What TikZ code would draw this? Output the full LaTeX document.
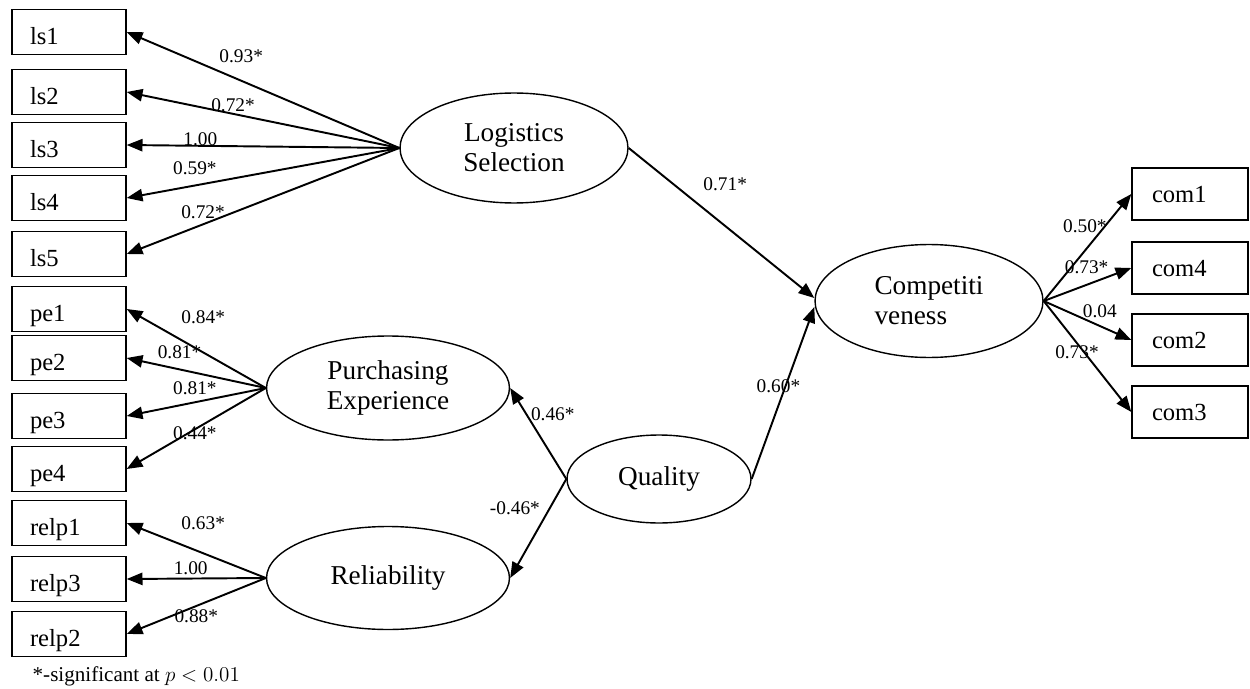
\documentclass[tikz,border=0pt]{standalone}
\usepackage{fontspec}
\setmainfont{Liberation Serif}
\usetikzlibrary{arrows.meta,shapes.geometric}

\begin{document}
\begin{tikzpicture}[->,>={Triangle[length=9pt,width=7pt]},x=0.02cm,y=-0.02cm,
		thick,latent node/.style={ellipse,draw,inner sep=0pt,align=center,font=\fontsize{15.5}{17}\selectfont},
		item node/.style={rectangle,draw,minimum height=0.9cm,inner xsep=0.36cm,text width=1.56cm,align=left,text height=14.2pt,text depth=0pt,font=\fontsize{14}{16}\selectfont},
		com node/.style={item node,minimum height=1.04cm,inner xsep=0.4cm,text width=1.52cm,text height=10.2pt}]
		\useasboundingbox (0,0) rectangle (1250,689);
		
		% latent variables
		\node[latent node,minimum width=4.56cm,minimum height=2.2cm] (LS) at (514,148) {Logistics\\Selection};
		\node[latent node,minimum width=4.86cm,minimum height=2.08cm] (PE) at (388,388) {Purchasing\\Experience};
		\node[latent node,minimum width=4.86cm,minimum height=2.06cm] (REL) at (388,578) {Reliability};
		\node[latent node,minimum width=3.68cm,minimum height=1.76cm] (Q) at (659,479) {Quality};
		\node[latent node,minimum width=4.56cm,minimum height=2.26cm,align=left] (C) at (929,301) {Competiti\\veness};
		
		% observed items
		\node[item node] (ls1) at (69,32) {ls1};
		\node[item node] (ls2) at (69,92) {ls2};
		\node[item node] (ls3) at (69,145) {ls3};
		\node[item node] (ls4) at (69,198) {ls4};
		\node[item node] (ls5) at (69,254) {ls5};
		\node[item node] (pe1) at (69,309) {pe1};
		\node[item node] (pe2) at (69,358) {pe2};
		\node[item node] (pe3) at (69,416) {pe3};
		\node[item node] (pe4) at (69,469) {pe4};
		\node[item node] (relp1) at (69,523) {relp1};
		\node[item node] (relp3) at (69,579) {relp3};
		\node[item node] (relp2) at (69,634) {relp2};
		\node[com node] (com1) at (1190,194) {com1};
		\node[com node] (com4) at (1190,268) {com4};
		\node[com node] (com2) at (1190,340) {com2};
		\node[com node] (com3) at (1190,412) {com3};
		
		\node[draw=none,anchor=west,inner sep=0pt,font=\fontsize{12}{14}\selectfont] (note) at (32,676) {*-significant at $p<0.01$};
		
		\path[line width=1.1pt,every node/.style={font=\fontsize{11}{13}\selectfont}]
		(LS.west) edge node[pos=.58,yshift=14pt] {0.93*} (ls1.east)
		(LS.west) edge node[pos=.61,yshift=5pt] {0.72*} (ls2.east)
		(LS.west) edge node[pos=.73,yshift=4pt] {1.00} (ls3.east)
		(LS.west) edge node[pos=.75,yshift=10pt] {0.59*} (ls4.east)
		(LS.west) edge node[pos=.72,yshift=7pt] {0.72*} (ls5.east)
		(PE.west) edge node[pos=.45,yshift=20pt] {0.84*} (pe1.east)
		(PE.west) edge node[pos=.62,yshift=10pt] {0.81*} (pe2.east)
		(PE.west) edge node[pos=.51,yshift=8pt] {0.81*} (pe3.east)
		(PE.west) edge node[pos=.51,yshift=-2pt] {0.44*} (pe4.east)
		(REL.west) edge node[pos=.45,yshift=17pt] {0.63*} (relp1.east)
		(REL.west) edge node[pos=.54,yshift=6pt] {1.00} (relp3.east)
		(REL.west) edge node[pos=.5,yshift=-6pt] {0.88*} (relp2.east)
		(Q.west) edge node[pos=.71,xshift=15pt] {0.46*} (PE.east)
		(Q.west) edge node[pos=.29,xshift=-20pt] {-0.46*} (REL.east)
		(LS.east) edge node[pos=.52,yshift=24pt] {0.71*} ([yshift=1.7pt]C.west)
		(Q.east) edge node[pos=.54,xshift=-4pt] {0.60*} ([yshift=-3.4pt]C.west)
		(C.east) edge node[pos=.47,yshift=14pt] {0.50*} (com1.west)
		(C.east) edge node[pos=.49,yshift=10pt] {0.73*} (com4.west)
		(C.east) edge node[pos=.64,yshift=8.5pt] {0.04} (com2.west)
		(C.east) edge node[pos=.38,yshift=-5pt] {0.73*} (com3.west);
\end{tikzpicture}
\end{document}
